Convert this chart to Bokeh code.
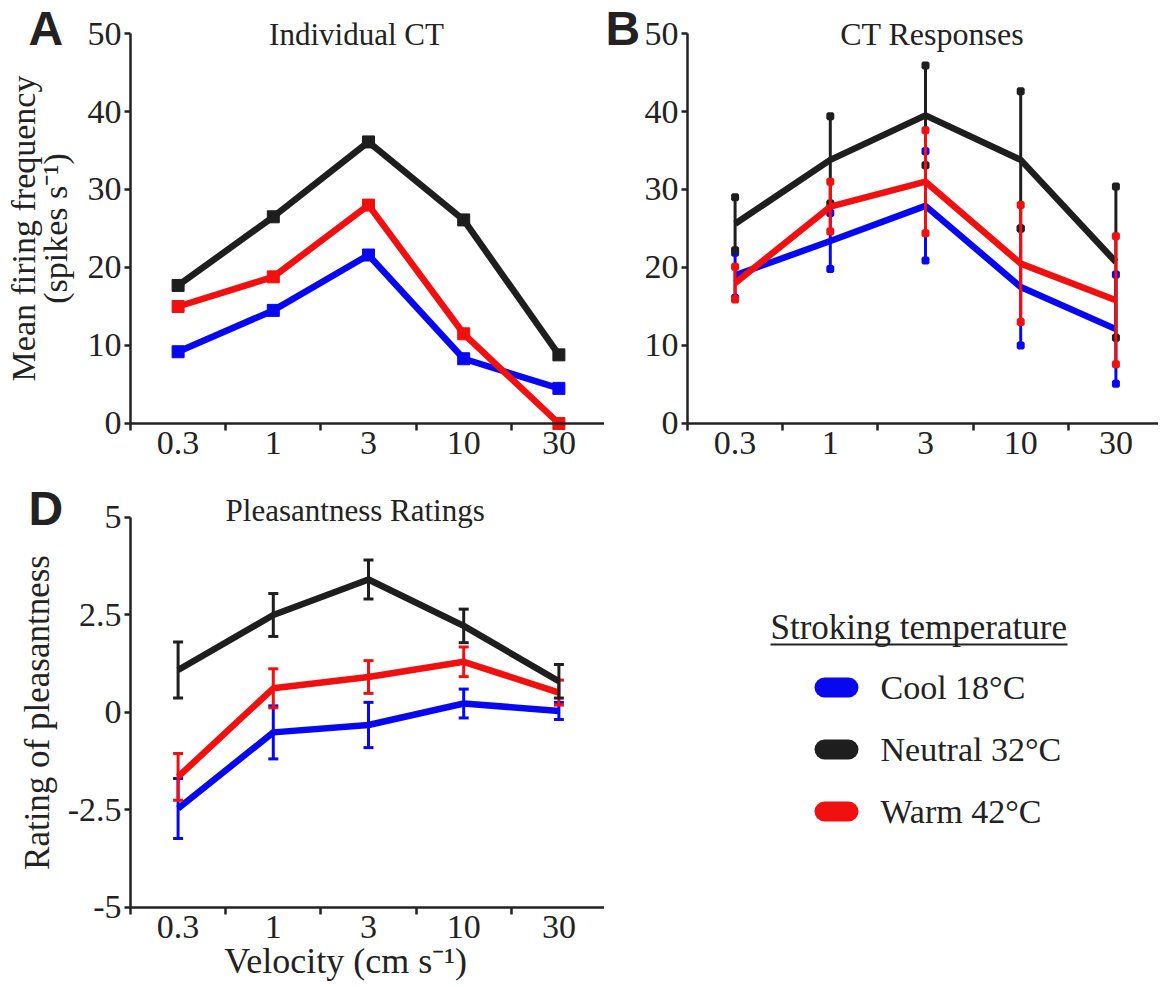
import math
from bokeh.plotting import figure
from bokeh.models import Range1d, FixedTicker, Label, NumeralTickFormatter
from bokeh.layouts import column, row
from bokeh.embed import file_html
from bokeh.resources import INLINE
from bokeh.core.properties import value

# ---------------- data ----------------
velocities = ["0.3", "1", "3", "10", "30"]
series_names = ["Cool 18\u00b0C", "Neutral 32\u00b0C", "Warm 42\u00b0C"]
series_colors = ["#0808f0", "#1e1e1e", "#f01010"]

# Panel A: Individual CT (spikes/s)
a_cool = [9.2, 14.5, 21.6, 8.3, 4.5]
a_neutral = [17.7, 26.5, 36.1, 26.1, 8.8]
a_warm = [15.0, 18.8, 28.0, 11.5, 0.0]

# Panel B: CT responses (mean, error)
b_cool = [19.0, 23.4, 27.9, 17.5, 12.1]
b_cool_err = [2.9, 3.6, 7.0, 7.5, 7.0]
b_neutral = [25.6, 33.8, 39.5, 33.8, 20.7]
b_neutral_err = [3.4, 5.6, 6.4, 8.8, 9.7]
b_warm = [18.0, 27.8, 31.0, 20.5, 15.8]
b_warm_err = [2.1, 3.2, 6.6, 7.5, 8.2]

# Panel D: pleasantness ratings (mean, error)
d_cool = [-2.46, -0.51, -0.32, 0.23, 0.04]
d_cool_err = [0.77, 0.68, 0.58, 0.37, 0.22]
d_neutral = [1.09, 2.50, 3.41, 2.22, 0.80]
d_neutral_err = [0.72, 0.55, 0.50, 0.43, 0.43]
d_warm = [-1.65, 0.62, 0.91, 1.30, 0.51]
d_warm_err = [0.60, 0.50, 0.42, 0.38, 0.32]

ab_yticks = [0, 10, 20, 30, 40, 50]
d_yticks = [-5, -2.5, 0, 2.5, 5]

SERIF = "Liberation Serif"
SANS = "Liberation Sans"
INK = "#222222"

xs = list(range(1, len(velocities) + 1))


def make_panel(xr, yr, xbounds, ybounds, yticks, width, height):
    p = figure(width=width, height=height, x_range=Range1d(*xr),
               y_range=Range1d(*yr), output_backend="svg",
               toolbar_location=None, min_border=0,
               min_border_left=0, min_border_top=0,
               min_border_bottom=0, min_border_right=0)
    p.outline_line_color = None
    p.grid.visible = False
    p.background_fill_color = "white"
    p.border_fill_color = "white"
    for ax in (p.xaxis[0], p.yaxis[0]):
        ax.axis_line_width = 2.5
        ax.axis_line_color = INK
        ax.major_tick_line_width = 2.5
        ax.major_tick_line_color = INK
        ax.minor_tick_line_width = 2.5
        ax.minor_tick_line_color = INK
        ax.major_label_text_font = SERIF
        ax.major_label_text_font_size = "34px"
        ax.major_label_text_color = INK
    xa = p.xaxis[0]
    xa.fixed_location = ybounds[0]
    xa.bounds = xbounds
    xa.ticker = FixedTicker(ticks=xs, minor_ticks=[x - 0.5 for x in xs] + [xs[-1] + 0.5])
    xa.major_label_overrides = {x: v for x, v in zip(xs, velocities)}
    xa.major_tick_out = 0
    xa.major_tick_in = 0
    xa.minor_tick_out = 7
    xa.minor_tick_in = 0
    xa.major_label_standoff = 2
    ya = p.yaxis[0]
    ya.fixed_location = xbounds[0]
    ya.bounds = ybounds
    ya.ticker = FixedTicker(ticks=yticks)
    ya.major_tick_out = 6
    ya.major_tick_in = 0
    ya.minor_tick_out = 0
    ya.minor_tick_in = 0
    ya.major_label_standoff = 3
    return p


def add_text(p, x, y, text, size, font=SERIF, bold=False, angle=0.0,
             align="left", baseline="middle"):
    p.add_layout(Label(x=x, y=y, text=text, text_font=font,
                       text_font_size=size, text_color=INK,
                       text_font_style="bold" if bold else "normal",
                       angle=angle, text_align=align, text_baseline=baseline))


def add_series_err(p, means, errs, color, cap_marker, cap_size):
    lo = [m - e for m, e in zip(means, errs)]
    hi = [m + e for m, e in zip(means, errs)]
    p.segment(x0=xs, y0=lo, x1=xs, y1=hi, line_width=3, line_color=color)
    p.scatter(xs, hi, marker=cap_marker, size=cap_size, line_width=3,
              line_color=color, fill_color=color)
    p.scatter(xs, lo, marker=cap_marker, size=cap_size, line_width=3,
              line_color=color, fill_color=color)
    p.line(xs, means, line_width=6.5, line_color=color)


# ---------------- Panel A ----------------
pa = make_panel((-0.8655, 5.479), (-5.385, 54.231), (0.5, 5.5), (0, 50), ab_yticks, 604, 465)
for vals, c in zip([a_cool, a_neutral, a_warm], series_colors):
    pa.line(xs, vals, line_width=6.5, line_color=c)
    pa.scatter(xs, vals, marker="square", size=12, line_color=c, fill_color=c)
add_text(pa, -0.571, 50.7, "A", "48px", font=SANS, bold=True)
add_text(pa, 2.874, 49.9, "Individual CT", "31px", align="center")
add_text(pa, -0.624, 25, "Mean firing frequency", "34px", angle=math.pi / 2,
         align="center")
add_text(pa, -0.288, 25, "(spikes s\u207b\u00b9)", "34px", angle=math.pi / 2,
         align="center")

# ---------------- Panel B ----------------
pb = make_panel((-0.3718, 5.4475), (-5.385, 54.231), (0.5, 5.4475), (0, 50), ab_yticks, 554, 465)
for m, e, c in zip([b_cool, b_neutral, b_warm],
                   [b_cool_err, b_neutral_err, b_warm_err], series_colors):
    add_series_err(pb, m, e, c, "square", 5)
add_text(pb, -0.361, 50.7, "B", "48px", font=SANS, bold=True)
add_text(pb, 3.07, 49.9, "CT Responses", "32px", align="center")

# ---------------- Panel D ----------------
pd_ = make_panel((-0.8655, 5.479), (-7.0, 6.333), (0.5, 5.5), (-5, 5), d_yticks, 604, 520)
pd_.yaxis[0].formatter = NumeralTickFormatter(format="0.[0]")
for m, e, c in zip([d_cool, d_warm, d_neutral],
                   [d_cool_err, d_warm_err, d_neutral_err],
                   [series_colors[0], series_colors[2], series_colors[1]]):
    add_series_err(pd_, m, e, c, "dash", 10)
add_text(pd_, -0.571, 5.23, "D", "48px", font=SANS, bold=True)
add_text(pd_, 2.86, 5.18, "Pleasantness Ratings", "31px", align="center")
add_text(pd_, -0.477, 0, "Rating of pleasantness", "35px", angle=math.pi / 2,
         align="center")
add_text(pd_, 2.76, -6.38, "Velocity (cm s\u207b\u00b9)", "36px", align="center")

# ---------------- Legend ----------------
pl = figure(width=554, height=520, x_range=Range1d(0, 554), y_range=Range1d(520, 0),
            output_backend="svg", toolbar_location=None, min_border=0,
            min_border_left=0, min_border_right=0, min_border_top=0, min_border_bottom=0)
pl.axis.visible = False
pl.grid.visible = False
pl.outline_line_color = None
title_x, title_y = 166, 162
add_text(pl, title_x, title_y, "Stroking temperature", "35px")
title_w = 297
pl.segment(x0=[title_x], y0=[title_y + 17], x1=[title_x + title_w], y1=[title_y + 17],
           line_width=2, line_color=INK)
row_y = [222 + 62 * i for i in range(len(series_names))]
pl.segment(x0=[220] * len(row_y), y0=row_y, x1=[244] * len(row_y), y1=row_y,
           line_width=20, line_cap="round", line_color=series_colors)
pl.text(x=[276] * len(row_y), y=row_y, text=series_names, text_font=value(SERIF),
        text_font_size="34px", text_color=INK, text_baseline="middle")

layout = column(row(pa, pb), row(pd_, pl))
open("out.html", "w").write(file_html(layout, INLINE))
